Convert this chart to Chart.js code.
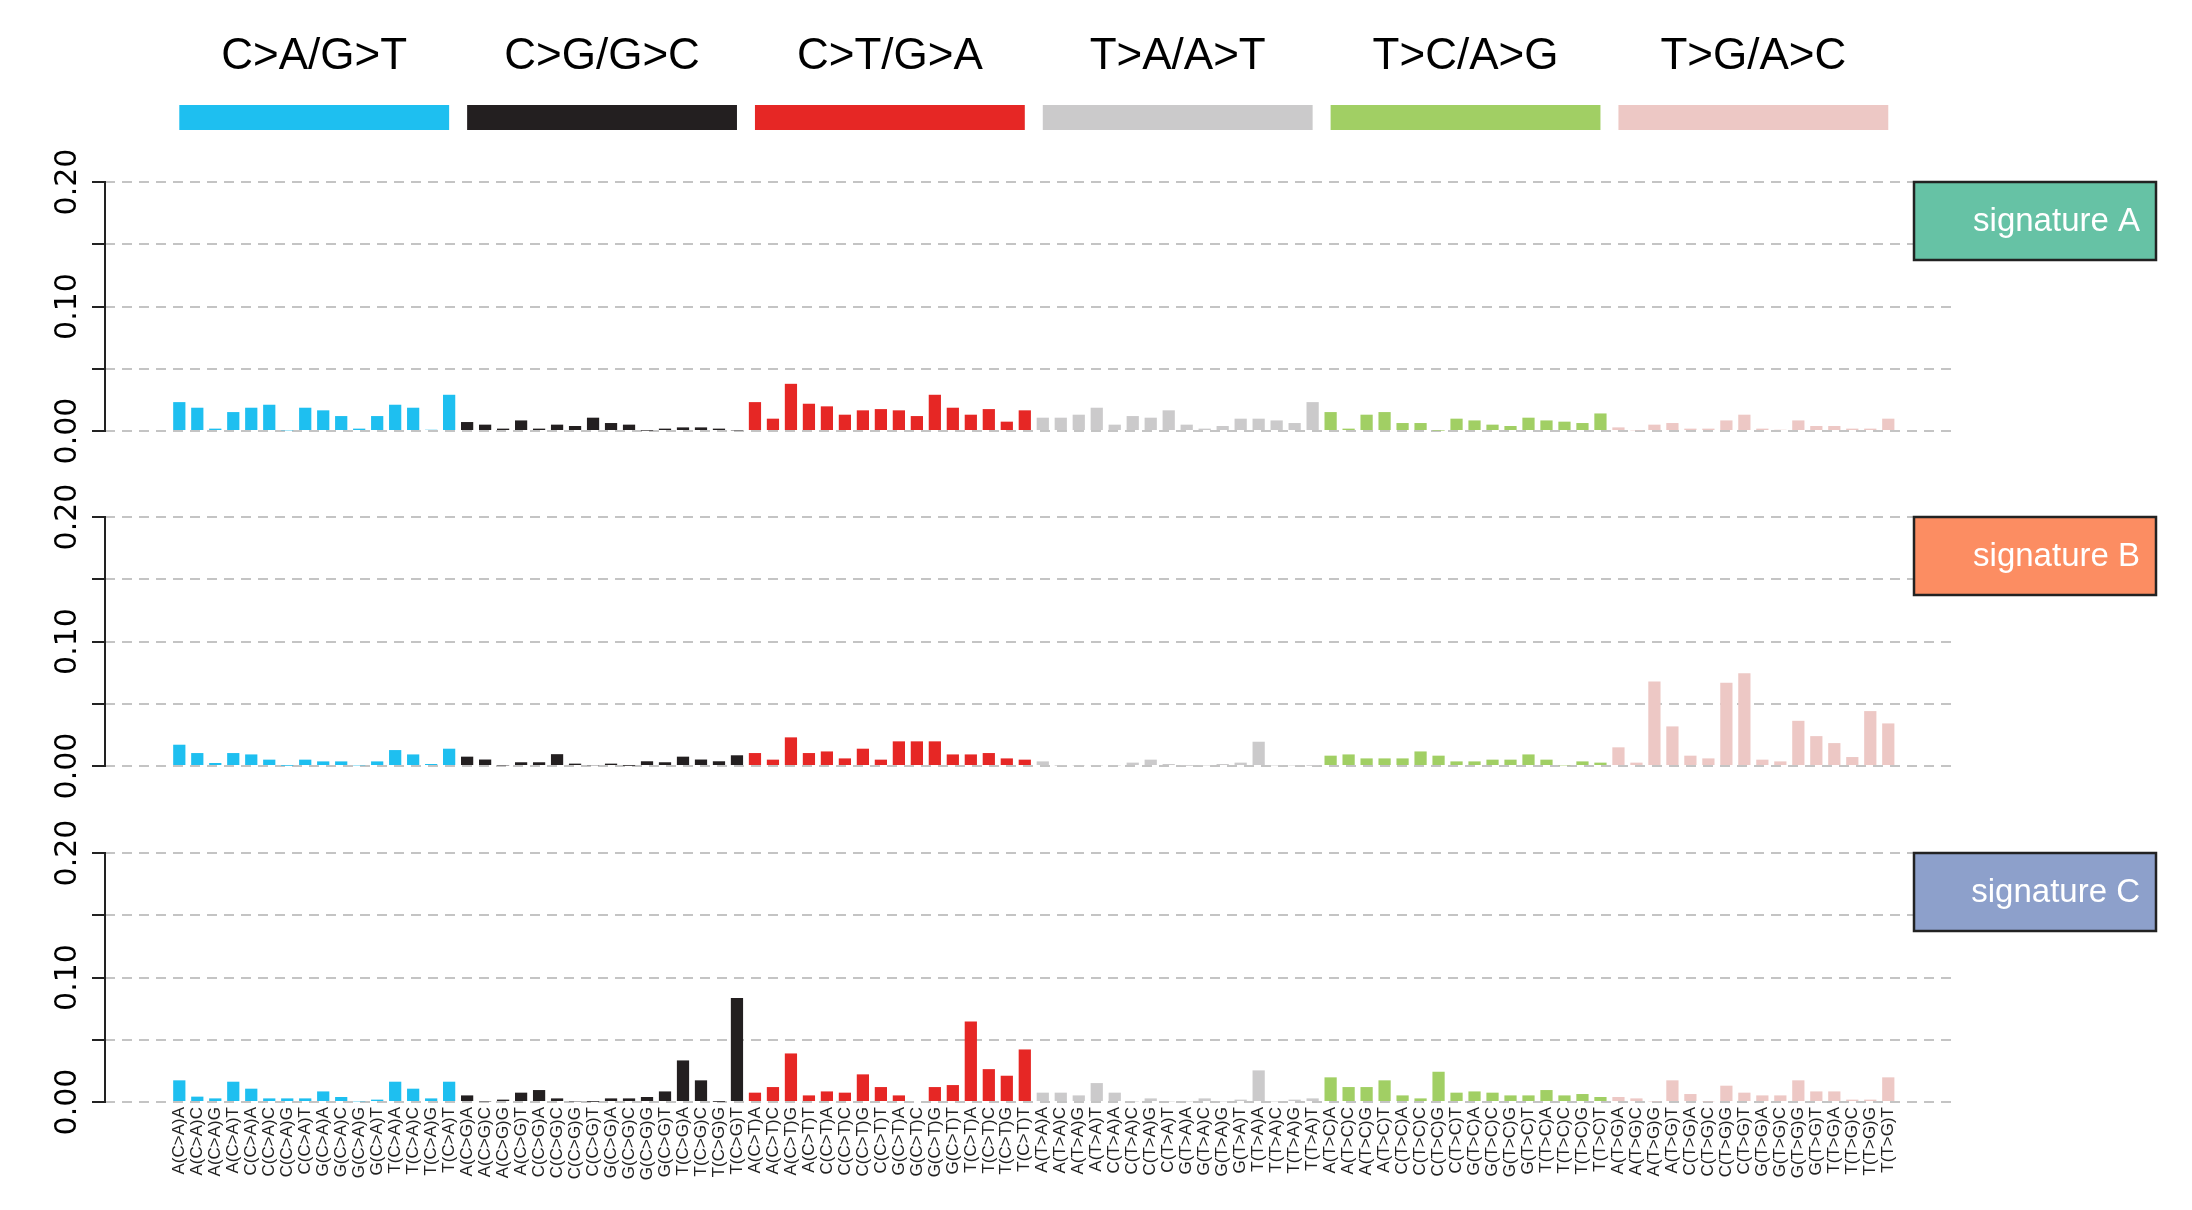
<!DOCTYPE html>
<html>
<head>
<meta charset="utf-8">
<title>Mutational signatures</title>
<script src="https://cdn.jsdelivr.net/npm/chart.js@4.4.1/dist/chart.umd.min.js"></script>
<style>
  body { margin: 0; background: #fff; }
  #page { position: relative; width: 2192px; height: 1210px; }
  #page canvas { position: absolute; left: 0; }
</style>
</head>
<body>
<div id="page">
  <canvas id="sigA" width="2192" height="480" style="top:0px"></canvas>
  <canvas id="sigB" width="2192" height="360" style="top:460px"></canvas>
  <canvas id="sigC" width="2192" height="410" style="top:800px"></canvas>
</div>
<script>
// mutation classes and flanking bases (96 trinucleotide contexts)
var mutTypes = ['C>A', 'C>G', 'C>T', 'T>A', 'T>C', 'T>G'];
var groupTitles = ['C>A/G>T', 'C>G/G>C', 'C>T/G>A', 'T>A/A>T', 'T>C/A>G', 'T>G/A>C'];
var groupColors = ['#1ebff0', '#231f20', '#e62725', '#cbcacb', '#a1cf64', '#edc8c5'];
var bases = ['A', 'C', 'G', 'T'];

var yTicksLabelled = [0, 0.1, 0.2];

// relative contribution per context
var sigA = [
  0.0232, 0.0187, 0.0019, 0.0152, 0.0187, 0.0211, 0.0005, 0.0187, 0.0166, 0.0120, 0.0019, 0.0120, 0.0211, 0.0187, 0.0010, 0.0291,
  0.0072, 0.0051, 0.0019, 0.0085, 0.0019, 0.0051, 0.0040, 0.0107, 0.0064, 0.0051, 0.0003, 0.0019, 0.0029, 0.0029, 0.0019, 0.0005,
  0.0232, 0.0099, 0.0379, 0.0219, 0.0198, 0.0131, 0.0166, 0.0176, 0.0166, 0.0120, 0.0291, 0.0187, 0.0131, 0.0176, 0.0075, 0.0166,
  0.0107, 0.0107, 0.0131, 0.0187, 0.0051, 0.0120, 0.0107, 0.0166, 0.0051, 0.0019, 0.0040, 0.0099, 0.0099, 0.0085, 0.0064, 0.0232,
  0.0152, 0.0019, 0.0131, 0.0152, 0.0064, 0.0064, 0.0003, 0.0099, 0.0085, 0.0051, 0.0040, 0.0107, 0.0085, 0.0075, 0.0064, 0.0141,
  0.0029, 0.0005, 0.0051, 0.0064, 0.0019, 0.0019, 0.0085, 0.0131, 0.0019, 0.0010, 0.0085, 0.0040, 0.0040, 0.0019, 0.0019, 0.0099
];
var sigB = [
  0.0171, 0.0104, 0.0024, 0.0104, 0.0093, 0.0051, 0.0002, 0.0051, 0.0037, 0.0037, 0.0005, 0.0037, 0.0128, 0.0093, 0.0016, 0.0139,
  0.0075, 0.0052, 0.0005, 0.0030, 0.0030, 0.0095, 0.0019, 0.0006, 0.0019, 0.0002, 0.0038, 0.0030, 0.0075, 0.0052, 0.0038, 0.0086,
  0.0104, 0.0051, 0.0230, 0.0104, 0.0117, 0.0061, 0.0139, 0.0051, 0.0198, 0.0198, 0.0198, 0.0093, 0.0093, 0.0104, 0.0061, 0.0051,
  0.0037, 0.0003, 0.0005, 0.0005, 0.0005, 0.0027, 0.0051, 0.0016, 0.0002, 0.0005, 0.0016, 0.0027, 0.0195, 0.0005, 0.0005, 0.0002,
  0.0083, 0.0093, 0.0061, 0.0061, 0.0061, 0.0117, 0.0083, 0.0037, 0.0037, 0.0051, 0.0051, 0.0093, 0.0051, 0.0005, 0.0037, 0.0027,
  0.0150, 0.0027, 0.0678, 0.0318, 0.0083, 0.0061, 0.0668, 0.0745, 0.0051, 0.0037, 0.0363, 0.0240, 0.0184, 0.0072, 0.0441, 0.0342
];
var sigC = [
  0.0174, 0.0043, 0.0029, 0.0163, 0.0107, 0.0029, 0.0029, 0.0029, 0.0085, 0.0040, 0.0005, 0.0019, 0.0163, 0.0107, 0.0029, 0.0163,
  0.0053, 0.0005, 0.0019, 0.0075, 0.0096, 0.0029, 0.0005, 0.0002, 0.0029, 0.0029, 0.0040, 0.0085, 0.0334, 0.0174, 0.0002, 0.0836,
  0.0075, 0.0120, 0.0390, 0.0053, 0.0085, 0.0075, 0.0222, 0.0120, 0.0053, 0.0008, 0.0120, 0.0136, 0.0646, 0.0264, 0.0211, 0.0422,
  0.0075, 0.0075, 0.0053, 0.0152, 0.0075, 0.0005, 0.0029, 0.0005, 0.0005, 0.0029, 0.0005, 0.0019, 0.0254, 0.0005, 0.0019, 0.0029,
  0.0198, 0.0120, 0.0120, 0.0174, 0.0053, 0.0029, 0.0243, 0.0075, 0.0085, 0.0075, 0.0053, 0.0053, 0.0096, 0.0053, 0.0064, 0.0040,
  0.0040, 0.0029, 0.0005, 0.0174, 0.0064, 0.0005, 0.0131, 0.0075, 0.0053, 0.0053, 0.0174, 0.0085, 0.0085, 0.0019, 0.0019, 0.0198
];

// build context labels like A(C>A)A and matching bar colours
var contextLabels = [];
var barColors = [];
mutTypes.forEach(function (m, g) {
  bases.forEach(function (b5) {
    bases.forEach(function (b3) {
      contextLabels.push(b5 + '(' + m + ')' + b3);
      barColors.push(groupColors[g]);
    });
  });
});

// axis line, rotated y labels, signature box and (top panel only) class header
var panelDecor = {
  id: 'panelDecor',
  afterDraw: function (chart, args, opts) {
    var ctx = chart.ctx, x = chart.scales.x, y = chart.scales.y, area = chart.chartArea;
    ctx.save();
    ctx.strokeStyle = '#222';
    ctx.lineWidth = 2;
    ctx.beginPath();
    ctx.moveTo(area.left, y.getPixelForValue(0) + 1);
    ctx.lineTo(area.left, y.getPixelForValue(0.2) - 1);
    ctx.stroke();

    ctx.fillStyle = '#000';
    ctx.font = '30px "DejaVu Sans"';
    ctx.textAlign = 'center';
    ctx.textBaseline = 'alphabetic';
    yTicksLabelled.forEach(function (v) {
      ctx.save();
      ctx.translate(area.left - 29, y.getPixelForValue(v));
      ctx.rotate(-Math.PI / 2);
      ctx.fillText(v.toFixed(2), 0, 0);
      ctx.restore();
    });

    // signature name box
    var bx = area.right - 43, by = area.top, bw = 242, bh = 78;
    ctx.fillStyle = opts.color;
    ctx.fillRect(bx, by, bw, bh);
    ctx.strokeStyle = '#222';
    ctx.lineWidth = 2.5;
    ctx.strokeRect(bx, by, bw, bh);
    ctx.fillStyle = '#fff';
    ctx.font = '33px "Liberation Sans"';
    ctx.textAlign = 'right';
    ctx.textBaseline = 'middle';
    ctx.fillText(opts.name, bx + bw - 16, by + bh / 2 + 1);

    if (opts.header) {
      groupTitles.forEach(function (t, g) {
        var x0 = x.getPixelForValue(g * 16), x1 = x.getPixelForValue(g * 16 + 15);
        ctx.fillStyle = groupColors[g];
        ctx.fillRect(x0, 105, x1 - x0, 25);
        ctx.fillStyle = '#000';
        ctx.font = '44px "Liberation Sans"';
        ctx.textAlign = 'center';
        ctx.textBaseline = 'middle';
        ctx.fillText(t, (x0 + x1) / 2, 57);
      });
    }
    ctx.restore();
  }
};

function makePanel(id, values, name, color, pad, showLabels) {
  return new Chart(id, {
    type: 'bar',
    data: {
      datasets: [{
        data: values.map(function (v, i) { return {x: i, y: v}; }),
        backgroundColor: barColors,
        barPercentage: 0.68,
        categoryPercentage: 1
      }]
    },
    options: {
      responsive: false,
      animation: false,
      layout: {padding: pad},
      plugins: {
        legend: {display: false},
        tooltip: {enabled: false},
        panelDecor: {name: name, color: color, header: id == 'sigA'}
      },
      scales: {
        x: {
          type: 'linear',
          min: -4.13,
          max: 98.82,
          offset: false,
          display: showLabels,
          grid: {display: false, drawTicks: false},
          border: {display: false},
          afterBuildTicks: function (scale) {
            scale.ticks = contextLabels.map(function (l, i) { return {value: i}; });
          },
          afterFit: function (scale) { scale.height = showLabels ? 108 : 0; },
          ticks: {
            autoSkip: false,
            minRotation: 90,
            maxRotation: 90,
            padding: 5,
            color: '#222',
            font: {family: 'Liberation Sans', size: 17},
            callback: function (value) { return contextLabels[value]; }
          }
        },
        y: {
          min: 0,
          max: 0.2,
          afterFit: function (scale) { scale.width = 30; },
          ticks: {display: false, stepSize: 0.05},
          grid: {color: '#c4c4c4', lineWidth: 2, tickColor: '#222', tickWidth: 2, tickLength: 13},
          border: {display: false, dash: [10, 7]}
        }
      }
    },
    plugins: [panelDecor]
  });
}

makePanel('sigA', sigA, 'signature A', '#66c2a5', {top: 182, left: 75, right: 235, bottom: 49}, false);
makePanel('sigB', sigB, 'signature B', '#fc8d62', {top: 57, left: 75, right: 235, bottom: 54}, false);
makePanel('sigC', sigC, 'signature C', '#8da0cb', {top: 53, left: 75, right: 235, bottom: 0}, true);
</script>
</body>
</html>
